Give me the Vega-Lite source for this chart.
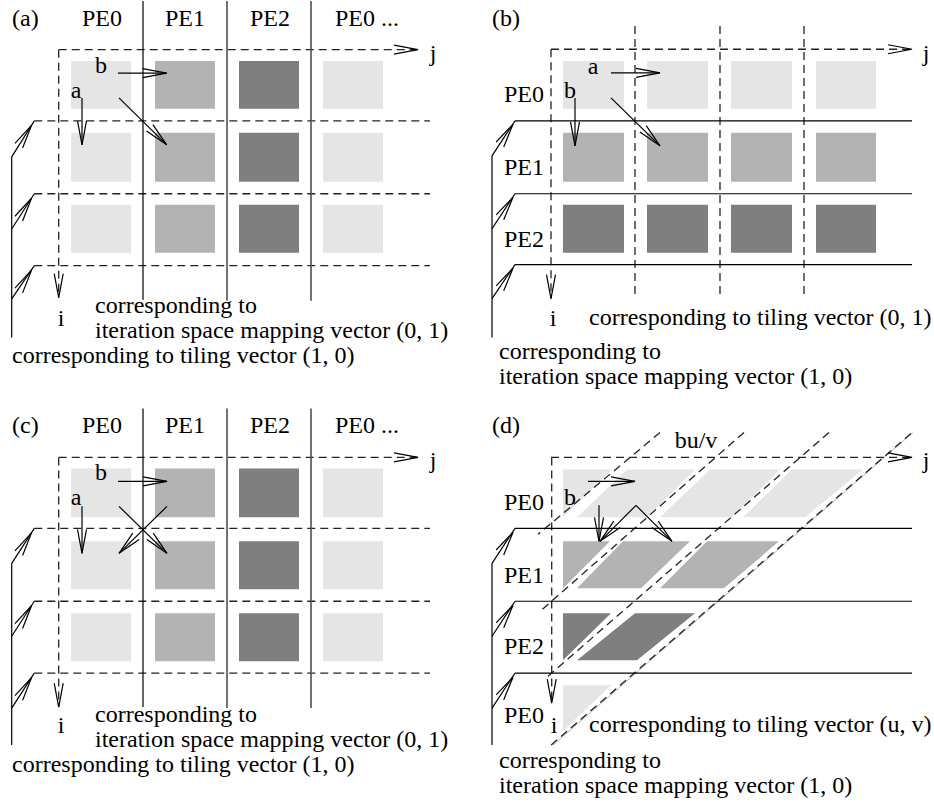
{
  "$schema": "https://vega.github.io/schema/vega-lite/v6.json",
  "width": 934,
  "height": 804,
  "padding": 0,
  "autosize": {"type": "fit", "contains": "padding"},
  "background": "white",
  "config": {"view": {"stroke": null}},
  "datasets": {
    "squares": [
      {"x":71,"x2":131,"y":60,"y2":108,"s":"L"},{"x":155,"x2":215,"y":60,"y2":108,"s":"M"},{"x":239,"x2":299,"y":60,"y2":108,"s":"D"},{"x":323,"x2":383,"y":60,"y2":108,"s":"L"},
      {"x":71,"x2":131,"y":132,"y2":181,"s":"L"},{"x":155,"x2":215,"y":132,"y2":181,"s":"M"},{"x":239,"x2":299,"y":132,"y2":181,"s":"D"},{"x":323,"x2":383,"y":132,"y2":181,"s":"L"},
      {"x":71,"x2":131,"y":204,"y2":252,"s":"L"},{"x":155,"x2":215,"y":204,"y2":252,"s":"M"},{"x":239,"x2":299,"y":204,"y2":252,"s":"D"},{"x":323,"x2":383,"y":204,"y2":252,"s":"L"},
      {"x":563,"x2":624,"y":60,"y2":108,"s":"L"},{"x":647,"x2":708,"y":60,"y2":108,"s":"L"},{"x":731,"x2":792,"y":60,"y2":108,"s":"L"},{"x":816,"x2":876,"y":60,"y2":108,"s":"L"},
      {"x":563,"x2":624,"y":132,"y2":181,"s":"M"},{"x":647,"x2":708,"y":132,"y2":181,"s":"M"},{"x":731,"x2":792,"y":132,"y2":181,"s":"M"},{"x":816,"x2":876,"y":132,"y2":181,"s":"M"},
      {"x":563,"x2":624,"y":204,"y2":252,"s":"D"},{"x":647,"x2":708,"y":204,"y2":252,"s":"D"},{"x":731,"x2":792,"y":204,"y2":252,"s":"D"},{"x":816,"x2":876,"y":204,"y2":252,"s":"D"},
      {"x":71,"x2":131,"y":468,"y2":517,"s":"L"},{"x":155,"x2":215,"y":468,"y2":517,"s":"M"},{"x":239,"x2":299,"y":468,"y2":517,"s":"D"},{"x":323,"x2":383,"y":468,"y2":517,"s":"L"},
      {"x":71,"x2":131,"y":541,"y2":589,"s":"L"},{"x":155,"x2":215,"y":541,"y2":589,"s":"M"},{"x":239,"x2":299,"y":541,"y2":589,"s":"D"},{"x":323,"x2":383,"y":541,"y2":589,"s":"L"},
      {"x":71,"x2":131,"y":613,"y2":661,"s":"L"},{"x":155,"x2":215,"y":613,"y2":661,"s":"M"},{"x":239,"x2":299,"y":613,"y2":661,"s":"D"},{"x":323,"x2":383,"y":613,"y2":661,"s":"L"}
    ],
    "tiles": [
      {"id":"r1a","x":563,"x2":612,"y":469,"s":"L"},{"id":"r1a","x":563,"x2":563,"y":517,"s":"L"},
      {"id":"r1b","x":627,"x2":695,"y":469,"s":"L"},{"id":"r1b","x":577,"x2":647,"y":517,"s":"L"},
      {"id":"r1c","x":710,"x2":780,"y":469,"s":"L"},{"id":"r1c","x":660,"x2":732,"y":517,"s":"L"},
      {"id":"r1d","x":792,"x2":863,"y":469,"s":"L"},{"id":"r1d","x":743,"x2":805,"y":517,"s":"L"},
      {"id":"r2a","x":563,"x2":610,"y":541,"s":"M"},{"id":"r2a","x":563,"x2":563,"y":588,"s":"M"},
      {"id":"r2b","x":623,"x2":690,"y":541,"s":"M"},{"id":"r2b","x":577,"x2":641,"y":588,"s":"M"},
      {"id":"r2c","x":707,"x2":779,"y":541,"s":"M"},{"id":"r2c","x":660,"x2":724,"y":588,"s":"M"},
      {"id":"r3a","x":563,"x2":611,"y":613,"s":"D"},{"id":"r3a","x":563,"x2":563,"y":660,"s":"D"},
      {"id":"r3b","x":635,"x2":695,"y":613,"s":"D"},{"id":"r3b","x":577,"x2":637,"y":660,"s":"D"},
      {"id":"r4a","x":563,"x2":611,"y":685,"s":"L"},{"id":"r4a","x":563,"x2":563,"y":731,"s":"L"}
    ],
    "solid": [
      {"x":143,"y":0,"x2":143,"y2":299},
      {"x":11.7,"y":156,"x2":11.7,"y2":337},
      {"x":11.7,"y":156,"x2":34.3,"y2":120},
      {"x":11.7,"y":228.3,"x2":34.3,"y2":193},
      {"x":11.7,"y":298.3,"x2":34.3,"y2":265},
      {"x":118,"y":72.3,"x2":166.7,"y2":72.3},
      {"x":82,"y":97,"x2":82,"y2":144},
      {"x":119,"y":97,"x2":166.7,"y2":144},
      {"x":515,"y":120,"x2":912,"y2":120},
      {"x":515,"y":193,"x2":912,"y2":193},
      {"x":515,"y":264,"x2":912,"y2":264},
      {"x":492,"y":155,"x2":492,"y2":337},
      {"x":492,"y":155,"x2":515,"y2":120},
      {"x":492,"y":228,"x2":515,"y2":193},
      {"x":492,"y":298,"x2":515,"y2":264},
      {"x":611,"y":72,"x2":660,"y2":72},
      {"x":575,"y":97,"x2":575,"y2":145},
      {"x":611,"y":97,"x2":660,"y2":145},
      {"x":143,"y":408,"x2":143,"y2":707},
      {"x":11.7,"y":563,"x2":11.7,"y2":745},
      {"x":11.7,"y":563,"x2":34.3,"y2":528},
      {"x":11.7,"y":636,"x2":34.3,"y2":601},
      {"x":11.7,"y":708,"x2":34.3,"y2":673},
      {"x":118,"y":481,"x2":167,"y2":481},
      {"x":82,"y":506,"x2":82,"y2":553},
      {"x":119,"y":506,"x2":167,"y2":553},
      {"x":167,"y":506,"x2":119,"y2":553},
      {"x":515,"y":528,"x2":912,"y2":528},
      {"x":515,"y":601,"x2":912,"y2":601},
      {"x":515,"y":673,"x2":912,"y2":673},
      {"x":492,"y":563,"x2":492,"y2":745},
      {"x":492,"y":563,"x2":515,"y2":528},
      {"x":492,"y":636,"x2":515,"y2":601},
      {"x":492,"y":708,"x2":515,"y2":673},
      {"x":588,"y":481,"x2":635,"y2":481},
      {"x":599,"y":505,"x2":599,"y2":541},
      {"x":636,"y":505,"x2":600,"y2":541},
      {"x":636,"y":505,"x2":672,"y2":541}
    ],
    "grayline": [
      {"x":227,"y":0,"x2":227,"y2":300},
      {"x":311,"y":0,"x2":311,"y2":300},
      {"x":227,"y":408,"x2":227,"y2":708},
      {"x":311,"y":408,"x2":311,"y2":708}
    ],
    "thin": [
      {"x":913,"y":432,"x2":553,"y2":745}
    ],
    "dashed": [
      {"x":58.7,"y":48.7,"x2":418,"y2":48.7},
      {"x":58.7,"y":48.7,"x2":58.7,"y2":297},
      {"x":34.3,"y":120,"x2":430,"y2":120},
      {"x":34.3,"y":193,"x2":430,"y2":193},
      {"x":34.3,"y":265,"x2":430,"y2":265},
      {"x":551,"y":48.3,"x2":912,"y2":48.3},
      {"x":551,"y":48.3,"x2":551,"y2":298},
      {"x":635,"y":25,"x2":635,"y2":298},
      {"x":720,"y":25,"x2":720,"y2":298},
      {"x":804,"y":25,"x2":804,"y2":298},
      {"x":58.7,"y":457,"x2":418,"y2":457},
      {"x":58.7,"y":457,"x2":58.7,"y2":707},
      {"x":34.3,"y":528,"x2":430,"y2":528},
      {"x":34.3,"y":601,"x2":430,"y2":601},
      {"x":34.3,"y":673,"x2":430,"y2":673},
      {"x":551,"y":457,"x2":912,"y2":457},
      {"x":551.7,"y":457,"x2":551.7,"y2":703},
      {"x":660,"y":432,"x2":538,"y2":534},
      {"x":744,"y":432,"x2":539,"y2":612},
      {"x":829,"y":432,"x2":548,"y2":676},
      {"x":911,"y":433,"x2":550,"y2":746}
    ],
    "heads": [
      {"x":418,"y":48.7,"dir":90},{"x":58.7,"y":297,"dir":180},
      {"x":31.5,"y":124.5,"dir":32},{"x":31.5,"y":197.5,"dir":32},{"x":31.5,"y":269.5,"dir":32},
      {"x":166.7,"y":72.3,"dir":90},{"x":82,"y":144,"dir":180},{"x":166.7,"y":144,"dir":135},
      {"x":912,"y":48.3,"dir":90},{"x":551,"y":298,"dir":180},
      {"x":513,"y":123.5,"dir":33},{"x":513,"y":196.5,"dir":33},{"x":513,"y":267.5,"dir":33},
      {"x":660,"y":72,"dir":90},{"x":575,"y":145,"dir":180},{"x":660,"y":145,"dir":135},
      {"x":418,"y":457,"dir":90},{"x":58.7,"y":707,"dir":180},
      {"x":31.5,"y":532.5,"dir":32},{"x":31.5,"y":605.5,"dir":32},{"x":31.5,"y":677.5,"dir":32},
      {"x":167,"y":481,"dir":90},{"x":82,"y":553,"dir":180},{"x":167,"y":553,"dir":135},{"x":119,"y":553,"dir":225},
      {"x":912,"y":457,"dir":90},{"x":551.7,"y":703,"dir":180},
      {"x":513,"y":532,"dir":33},{"x":513,"y":605,"dir":33},{"x":513,"y":677,"dir":33},
      {"x":635,"y":481,"dir":90},{"x":599,"y":541,"dir":180},{"x":600,"y":541,"dir":225},{"x":672,"y":541,"dir":135}
    ],
    "ctext": [
      {"x":102,"y":25,"t":"PE0"},{"x":185,"y":25,"t":"PE1"},{"x":270,"y":25,"t":"PE2"},
      {"x":101,"y":72,"t":"b"},{"x":76,"y":97,"t":"a"},{"x":433,"y":60,"t":"j"},{"x":61,"y":325,"t":"i"},
      {"x":593,"y":73,"t":"a"},{"x":570,"y":97,"t":"b"},
      {"x":524,"y":101,"t":"PE0"},{"x":524,"y":174,"t":"PE1"},{"x":524,"y":246,"t":"PE2"},
      {"x":926,"y":60,"t":"j"},{"x":553,"y":325,"t":"i"},
      {"x":102,"y":433,"t":"PE0"},{"x":185,"y":433,"t":"PE1"},{"x":270,"y":433,"t":"PE2"},
      {"x":101,"y":480,"t":"b"},{"x":76,"y":505,"t":"a"},{"x":433,"y":468,"t":"j"},{"x":61,"y":733,"t":"i"},
      {"x":696,"y":448,"t":"bu/v"},
      {"x":524,"y":510,"t":"PE0"},{"x":570,"y":505,"t":"b"},{"x":524,"y":583,"t":"PE1"},
      {"x":524,"y":654,"t":"PE2"},{"x":524,"y":723,"t":"PE0"},
      {"x":926,"y":468,"t":"j"},{"x":554,"y":733,"t":"i"}
    ],
    "ltext": [
      {"x":12,"y":25,"t":"(a)"},{"x":335,"y":25,"t":"PE0 ..."},
      {"x":95,"y":312,"t":"corresponding to"},
      {"x":95,"y":337,"t":"iteration space mapping vector (0, 1)"},
      {"x":12,"y":362,"t":"corresponding to tiling vector (1, 0)"},
      {"x":492,"y":25,"t":"(b)"},
      {"x":589,"y":324,"t":"corresponding to tiling vector (0, 1)"},
      {"x":499,"y":358,"t":"corresponding to"},
      {"x":499,"y":383,"t":"iteration space mapping vector (1, 0)"},
      {"x":12,"y":433,"t":"(c)"},{"x":335,"y":433,"t":"PE0 ..."},
      {"x":95,"y":722,"t":"corresponding to"},
      {"x":95,"y":747,"t":"iteration space mapping vector (0, 1)"},
      {"x":12,"y":772,"t":"corresponding to tiling vector (1, 0)"},
      {"x":492,"y":433,"t":"(d)"},
      {"x":589,"y":732,"t":"corresponding to tiling vector (u, v)"},
      {"x":499,"y":768,"t":"corresponding to"},
      {"x":499,"y":793,"t":"iteration space mapping vector (1, 0)"}
    ]
  },
  "encoding": {
    "x": {"field": "x", "type": "quantitative", "scale": {"domain": [0, 934], "nice": false, "zero": false}, "axis": null},
    "y": {"field": "y", "type": "quantitative", "scale": {"domain": [0, 804], "nice": false, "zero": false, "reverse": true}, "axis": null}
  },
  "layer": [
    {
      "data": {"name": "squares"},
      "mark": {"type": "rect"},
      "encoding": {
        "x2": {"field": "x2"},
        "y2": {"field": "y2"},
        "color": {"field": "s", "type": "nominal", "scale": {"domain": ["L", "M", "D"], "range": ["#e5e5e5", "#b3b3b3", "#7f7f7f"]}, "legend": null}
      }
    },
    {
      "data": {"name": "tiles"},
      "mark": {"type": "area", "orient": "horizontal", "opacity": 1},
      "encoding": {
        "x": {"field": "x", "type": "quantitative", "stack": null, "scale": {"domain": [0, 934], "nice": false, "zero": false}, "axis": null},
        "x2": {"field": "x2"},
        "detail": {"field": "id", "type": "nominal"},
        "color": {"field": "s", "type": "nominal", "legend": null}
      }
    },
    {
      "data": {"name": "thin"},
      "mark": {"type": "rule", "color": "#b0b0b0", "strokeWidth": 0.9},
      "encoding": {"x2": {"field": "x2"}, "y2": {"field": "y2"}}
    },
    {
      "data": {"name": "dashed"},
      "mark": {"type": "rule", "color": "#222222", "strokeWidth": 1.3, "strokeDash": [8, 5]},
      "encoding": {"x2": {"field": "x2"}, "y2": {"field": "y2"}}
    },
    {
      "data": {"name": "grayline"},
      "mark": {"type": "rule", "color": "#505050", "strokeWidth": 1.6},
      "encoding": {"x2": {"field": "x2"}, "y2": {"field": "y2"}}
    },
    {
      "data": {"name": "solid"},
      "mark": {"type": "rule", "color": "#000000", "strokeWidth": 1.2},
      "encoding": {"x2": {"field": "x2"}, "y2": {"field": "y2"}}
    },
    {
      "data": {"name": "heads"},
      "mark": {"type": "point", "shape": "M-4.5,24L0,0L4.5,24", "size": 4, "filled": false, "color": "#000000", "strokeWidth": 1.2, "opacity": 1},
      "encoding": {"angle": {"field": "dir", "type": "quantitative", "scale": null}}
    },
    {
      "data": {"name": "ctext"},
      "mark": {"type": "text", "font": "Liberation Serif", "fontSize": 24, "align": "center", "baseline": "alphabetic", "color": "#000000"},
      "encoding": {"text": {"field": "t"}}
    },
    {
      "data": {"name": "ltext"},
      "mark": {"type": "text", "font": "Liberation Serif", "fontSize": 24, "align": "left", "baseline": "alphabetic", "color": "#000000"},
      "encoding": {"text": {"field": "t"}}
    }
  ]
}
